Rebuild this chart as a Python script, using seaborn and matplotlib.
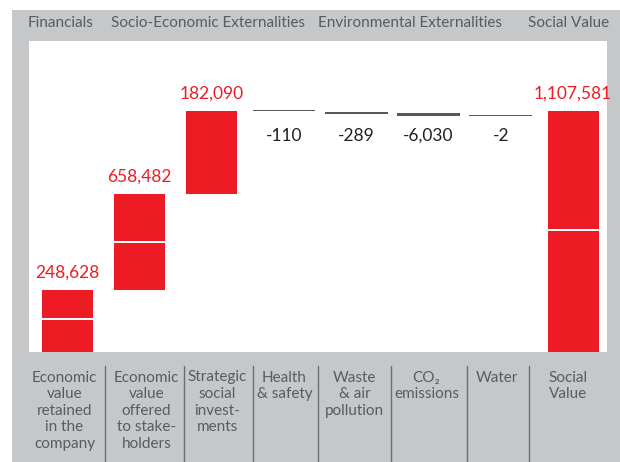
import matplotlib
matplotlib.use("Agg")
import matplotlib.pyplot as plt
from matplotlib.patches import Rectangle
from matplotlib.lines import Line2D
import seaborn as sns
import pandas as pd
import numpy as np

# ---------------- data ----------------
categories = [
    "Economic\nvalue\nretained\nin the\ncompany",
    "Economic\nvalue\noffered\nto stake-\nholders",
    "Strategic\nsocial\ninvest-\nments",
    "Health\n& safety",
    "Waste\n& air\npollution",
    "CO\u2082\nemissions",
    "Water",
    "Social\nValue",
]
values = [248628, 658482, 182090, -110, -289, -6030, -2, 1107581]
value_labels = ["248,628", "658,482", "182,090", "-110", "-289", "-6,030", "-2", "1,107,581"]
groups = ["Financials", "Socio-Economic Externalities", "Environmental Externalities", "Social Value"]

# visual extents as drawn in the original (the infographic is not to scale)
bar_base = [0, 285000, 726000, 0, 0, 0, 0, 0]
bar_split = [152000, 506000, 1107581, 0, 0, 0, 0, 561000]
bar_top = [285000, 726000, 1107581, 0, 0, 0, 0, 1107581]
line_level = [0, 0, 0, 1109000, 1100000, 1091000, 1085000, 0]
line_thick = [0, 0, 0, 6000, 9200, 13800, 4600, 0]

# ---------------- style ----------------
RED = "#ED1C24"
GREY_BG = "#C6C7C9"
TXT_GREY = "#5A5B5D"
DARK = "#231F20"
LINE_GREY = "#58595B"

sns.set_theme(style="white")
plt.rcParams["font.family"] = ["Lato", "DejaVu Sans"]

W, H = 620, 462
fig = plt.figure(figsize=(W / 100, H / 100), dpi=100, facecolor="white")
fig.patches.append(Rectangle((12 / W, 0), 1 - 12 / W, 1 - 10 / H,
                             transform=fig.transFigure, facecolor=GREY_BG,
                             edgecolor="none", zorder=-10))

ax_l, ax_r, ax_t, ax_b = 29, 607, 41, 352
ax = fig.add_axes([ax_l / W, 1 - ax_b / H, (ax_r - ax_l) / W, (ax_b - ax_t) / H])
ax.set_zorder(5)
ax.set_facecolor("white")

px = 1107581 / 241.0  # value units per pixel
gap = 1.0 * px

base = np.array(bar_base, float)
split = np.array(bar_split, float)
top = np.array(bar_top, float)
low_h = np.where(top > base, np.clip(split - base - np.where(split < top, gap, 0), 0, None), 0)
high_b = split + gap
high_h = np.where(split < top, top - high_b, 0)

df = pd.DataFrame({"cat": categories, "low": low_h, "high": high_h,
                   "lh": line_thick})
df["lb"] = np.array(line_level) - np.array(line_thick) / 2

sns.barplot(data=df, x="cat", y="low", order=categories, color=RED, saturation=1,
            width=0.706, linewidth=0, errorbar=None, bottom=base, ax=ax)
sns.barplot(data=df, x="cat", y="high", order=categories, color=RED, saturation=1,
            width=0.706, linewidth=0, errorbar=None, bottom=high_b, ax=ax)
sns.barplot(data=df, x="cat", y="lh", order=categories, color=LINE_GREY, saturation=1,
            width=0.87, linewidth=0, errorbar=None, bottom=df["lb"].to_numpy(), ax=ax)

ax.set_xlim(-0.53, 7.47)
ax.set_ylim(0, (ax_b - ax_t) * px)
ax.set_xticks([])
ax.set_yticks([])
ax.set_xlabel("")
ax.set_ylabel("")
for s in ax.spines.values():
    s.set_visible(False)

# value labels
for i, (v, lab) in enumerate(zip(values, value_labels)):
    if v > 0:
        ax.annotate(lab, (i, top[i]), xytext=(0, 12.5), textcoords="offset points",
                    ha="center", va="center", color=RED, fontsize=12.5)
    else:
        ax.text(i, (ax_b - 135.7) * px, lab, ha="center", va="center",
                color=DARK, fontsize=12.5)

# group headers
for g, xc in zip(groups, [61, 208, 410, 569]):
    fig.text(xc / W, 1 - 23 / H, g, ha="center", va="center", color=TXT_GREY, fontsize=11)

# category labels below
for c, xc in zip(categories, [64.5, 146.5, 217.5, 284.5, 354.5, 426.5, 496.5, 568.5]):
    fig.text(xc / W, 1 - 370.5 / H, c, ha="center", va="top", color=TXT_GREY,
             fontsize=11, linespacing=1.24, multialignment="center")

# separators
for xs in [105, 184, 253, 318, 391, 467, 529]:
    fig.lines.append(Line2D([xs / W, xs / W], [0, 1 - 366 / H], transform=fig.transFigure,
                            color="#6D6E71", linewidth=1.0))

fig.savefig("out.png", dpi=100, facecolor="white")
